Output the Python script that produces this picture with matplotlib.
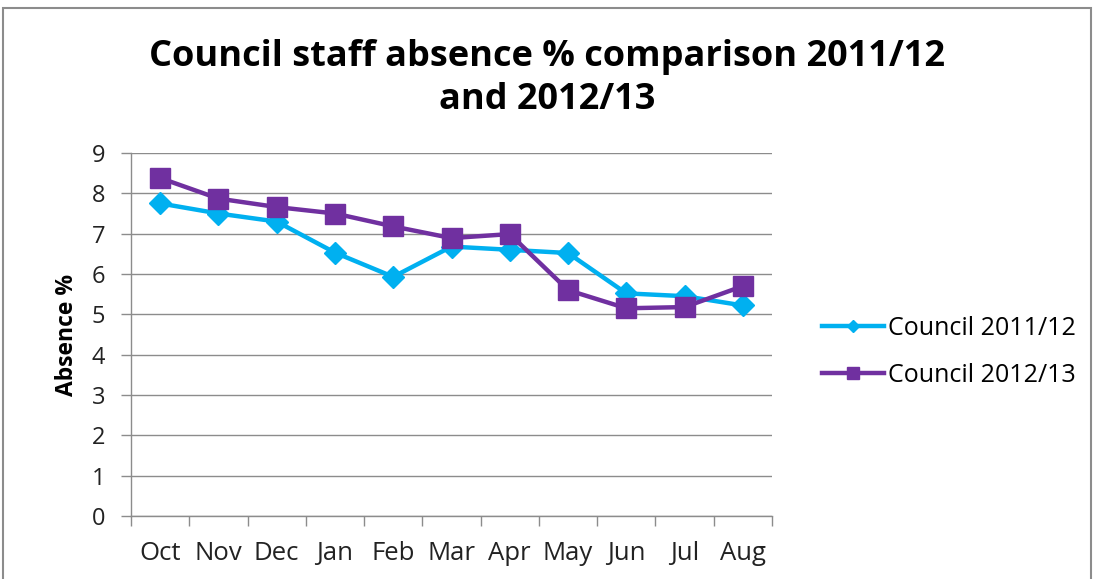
import matplotlib
matplotlib.use("Agg")
import matplotlib.pyplot as plt
from matplotlib.patches import Rectangle

months = ["Oct", "Nov", "Dec", "Jan", "Feb", "Mar", "Apr", "May", "Jun", "Jul", "Aug"]
absence_2011 = [7.75, 7.5, 7.3, 6.53, 5.93, 6.68, 6.6, 6.52, 5.52, 5.45, 5.22]
absence_2012 = [8.38, 7.87, 7.66, 7.5, 7.18, 6.89, 6.99, 5.6, 5.15, 5.18, 5.7]
y_ticks = list(range(0, 10))

cyan = "#00B0F0"
purple = "#7030A0"
grid_col = "#8c8c8c"

plt.rcParams["font.family"] = ["Open Sans", "DejaVu Sans"]

fig = plt.figure(figsize=(10.94, 5.79), dpi=100)
ax = fig.add_axes([131 / 1094, 1 - 516 / 579, 641 / 1094, (516 - 153) / 579])

x = list(range(len(months)))
ax.plot(x, absence_2011, color=cyan, lw=3.2, marker="D", ms=11,
        label="Council 2011/12", zorder=3)
ax.plot(x, absence_2012, color=purple, lw=3.2, marker="s", ms=15,
        label="Council 2012/13", zorder=4)

ax.set_xlim(-0.5, len(months) - 0.5)
ax.set_ylim(0, 9)
ax.set_yticks(y_ticks)
ax.set_yticklabels([str(v) for v in y_ticks], fontsize=17, color="#222222")
ax.set_xticks(x)
ax.set_xticklabels(months, fontsize=18.5, color="#222222")
ax.set_xticks([i - 0.5 for i in range(len(months) + 1)], minor=True)
ax.tick_params(axis="x", which="major", length=0, pad=18)
ax.tick_params(axis="x", which="minor", length=7, color=grid_col, width=1)
ax.tick_params(axis="y", length=7, color=grid_col, width=1, pad=11.5)

ax.grid(axis="y", color=grid_col, lw=1)
ax.set_axisbelow(True)
for side in ["top", "right"]:
    ax.spines[side].set_visible(False)
for side in ["left", "bottom"]:
    ax.spines[side].set_color(grid_col)
    ax.spines[side].set_linewidth(1)

ax.set_ylabel("Absence %", fontsize=16.5, fontweight="bold", labelpad=9)

fig.text(0.5, 1 - 57 / 579, "Council staff absence % comparison 2011/12",
         ha="center", va="center", fontsize=26, fontweight="bold")
fig.text(0.5, 1 - 100 / 579, "and 2012/13",
         ha="center", va="center", fontsize=26, fontweight="bold")

leg = fig.legend(loc="center left", bbox_to_anchor=(799 / 1094, 1 - 352 / 579),
                 frameon=False, fontsize=18, handlelength=2.5,
                 labelspacing=0.87, handletextpad=0.15, markerscale=0.6)

# chart frame
fig.patches.append(Rectangle((3 / 1094, -0.02), 1088 / 1094, 1.02 - 8 / 579,
                             transform=fig.transFigure, fill=False,
                             edgecolor="#8c8c8c", lw=1.5))

fig.savefig("out.png", dpi=100, facecolor="white")
